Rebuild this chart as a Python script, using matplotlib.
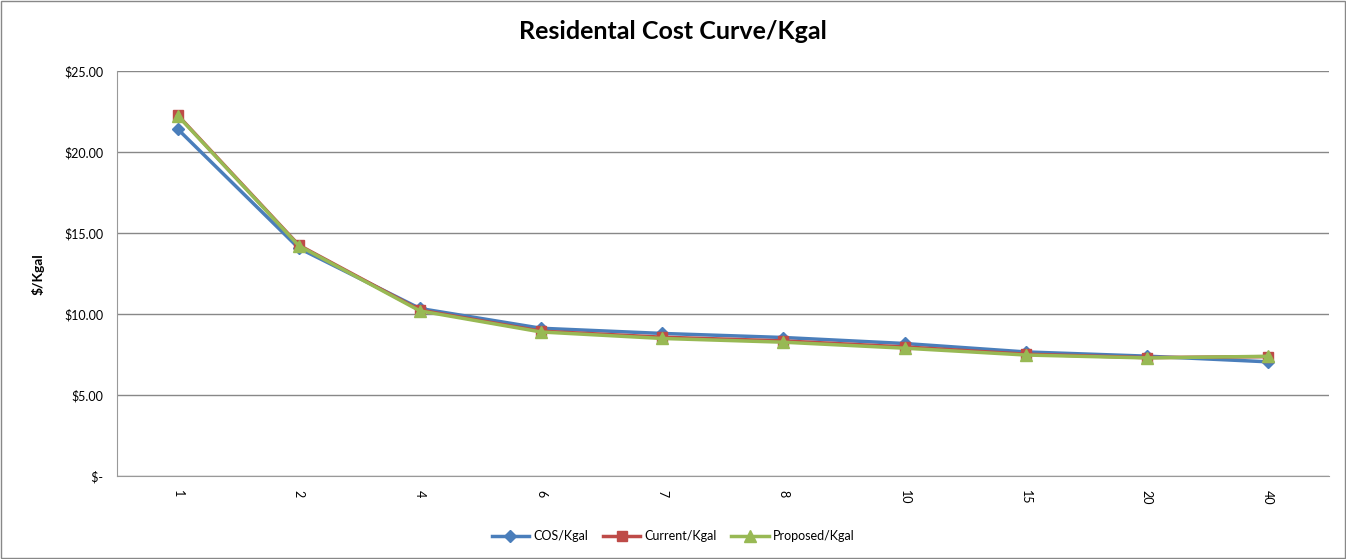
import matplotlib.pyplot as plt
from matplotlib.ticker import FuncFormatter

# Usage tiers (Kgal) and cost per Kgal for each rate scenario.
tiers = ["1", "2", "4", "6", "7", "8", "10", "15", "20", "40"]
cos_kgal = [21.42, 14.07, 10.35, 9.13, 8.81, 8.56, 8.19, 7.67, 7.41, 7.06]
current_kgal = [22.28, 14.26, 10.25, 8.95, 8.58, 8.35, 7.98, 7.53, 7.32, 7.38]
proposed_kgal = [22.25, 14.22, 10.2, 8.9, 8.5, 8.27, 7.9, 7.48, 7.3, 7.4]

plt.rcParams["font.family"] = ["Lato", "DejaVu Sans"]

fig = plt.figure(figsize=(13.46, 5.59), dpi=100)
ax = fig.add_axes([0.087, 0.148, 0.9, 0.725])

x = range(len(tiers))
ax.plot(x, cos_kgal, color="#4A7EBB", lw=2.5, marker="D", ms=6, label="COS/Kgal")
ax.plot(x, current_kgal, color="#BE4B48", lw=2.5, marker="s", ms=7, label="Current/Kgal")
ax.plot(x, proposed_kgal, color="#98B954", lw=2.5, marker="^", ms=8, label="Proposed/Kgal")

ax.set_xlim(-0.5, len(tiers) - 0.5)
ax.set_ylim(0, 25)
ax.set_yticks([0, 5, 10, 15, 20, 25])
ax.yaxis.set_major_formatter(FuncFormatter(lambda v, p: " $-" if v == 0 else f"${v:.2f}"))
ax.set_xticks(list(x))
ax.set_xticklabels(tiers, rotation=270, fontsize=9)
ax.tick_params(axis="y", labelsize=9, length=0, pad=10)
ax.tick_params(axis="x", length=0, pad=10)

ax.grid(axis="y", color="#888888", lw=1)
ax.set_axisbelow(True)
for side in ["top", "right"]:
    ax.spines[side].set_visible(False)
for side in ["left", "bottom"]:
    ax.spines[side].set_color("#999999")

ax.set_ylabel("$/Kgal", fontsize=10, fontweight="bold", labelpad=4)
ax.yaxis.set_label_coords(-0.06, 0.5)
fig.suptitle("Residental Cost Curve/Kgal", y=0.965, fontsize=18, fontweight="bold")

fig.legend(loc="lower center", bbox_to_anchor=(0.5, 0.01), ncol=3, frameon=False,
           fontsize=9, handlelength=3, columnspacing=1.2, handletextpad=0.3)

# outer chart border
fig.patches.append(plt.Rectangle((0.001, 0.002), 0.998, 0.996, transform=fig.transFigure,
                                 fill=False, edgecolor="#888888", lw=1))

fig.savefig("out.png", dpi=100)
